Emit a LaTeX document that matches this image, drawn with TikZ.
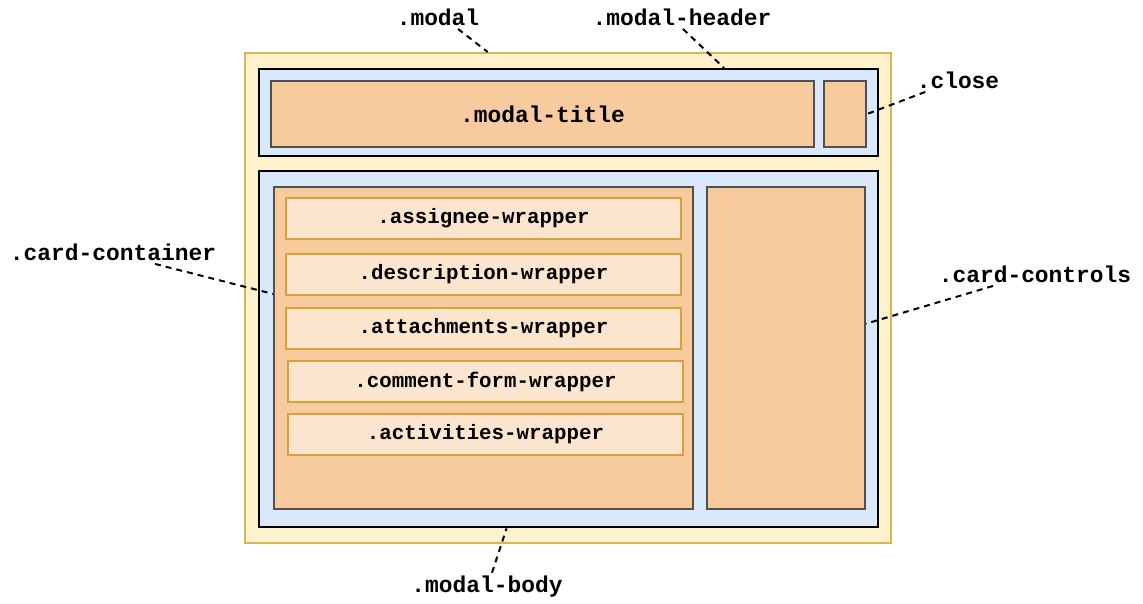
\documentclass[tikz,border=0pt]{standalone}
\usepackage{fontspec}
\setmonofont{Liberation Mono}
\usetikzlibrary{calc}
\definecolor{modalfill}{HTML}{FFF2CC}
\definecolor{modalline}{HTML}{D6B656}
\definecolor{panefill}{HTML}{DAE8FC}
\definecolor{blockfill}{HTML}{F7CB9E}
\definecolor{blockline}{HTML}{505050}
\definecolor{wrapfill}{HTML}{FBE5CE}
\definecolor{wrapline}{HTML}{D6A23C}
\newcommand\lblfont{\ttfamily\bfseries\fontsize{22.9}{26}\selectfont}
\newcommand\wrapfont{\ttfamily\bfseries\fontsize{20.8}{24}\selectfont}
\tikzset{
  modalbox/.style={draw=modalline, fill=modalfill, line width=2pt, anchor=north west, inner sep=0pt},
  pane/.style={draw=black, fill=panefill, line width=2.4pt, anchor=north west, inner sep=0pt},
  block/.style={draw=blockline, fill=blockfill, line width=2pt, anchor=north west, inner sep=0pt},
  wrapper/.style={draw=wrapline, fill=wrapfill, line width=2pt, anchor=north west, inner sep=0pt,
    minimum width=395pt, minimum height=41pt, font=\wrapfont},
  tag/.style={font=\lblfont},
  leader/.style={draw=black, line width=2pt, dash pattern=on 6pt off 5pt}
}

\begin{document}
\begin{tikzpicture}[x=1pt, y=-1pt]
  \useasboundingbox (0,0) rectangle (1143,603);

  \node[modalbox, minimum width=646pt, minimum height=490pt] (modal) at (244,52) {};
  \node[pane, minimum width=619pt, minimum height=87pt] (header) at (258,68) {};
  \node[block, minimum width=543pt, minimum height=66pt, font=\lblfont] (title) at (270,80) {.modal-title};
  \node[block, minimum width=42pt, minimum height=66pt] (close) at (823,80) {};
  \node[pane, minimum width=619pt, minimum height=356pt] (body) at (258,170) {};
  \node[block, minimum width=419pt, minimum height=322pt] (container) at (273,186) {};
  \node[block, minimum width=158pt, minimum height=322pt] (controls) at (706,186) {};

  \foreach \name/\x/\y [count=\i] in {assignee/285/197, description/285/253,
      attachments/285/307, comment-form/287/360, activities/287/413}
    \node[wrapper] (wrap\i) at (\x,\y) {.\name-wrapper};

  % labels round the modal
  \node[tag] (lmodal) at (438,17) {.modal};
  \node[tag] (lheader) at (682,17) {.modal-header};
  \node[tag] (lclose) at (958,80) {.close};
  \node[tag] (lcontainer) at (113,252) {.card-container};
  \node[tag] (lcontrols) at (1035,274) {.card-controls};
  \node[tag] (lbody) at (487,587) {.modal-body};

  \draw[leader] ([xshift=20pt]lmodal.south) -- ($(modal.north west)!0.376!(modal.north east)$);
  \draw[leader] ([xshift=1pt]lheader.south) -- ($(header.north west)!0.75!(header.north east)$);
  \draw[leader] ([xshift=12pt]lclose.south west) -- (close.east);
  \draw[leader] ([xshift=42pt]lcontainer.south) -- ($(container.north west)!0.333!(container.south west)$);
  \draw[leader] ([xshift=-42pt]lcontrols.south) -- ($(controls.north east)!0.425!(controls.south east)$);
  \draw[leader] ([xshift=5pt]lbody.north) -- ($(body.south west)!0.4!(body.south east)$);
\end{tikzpicture}
\end{document}
